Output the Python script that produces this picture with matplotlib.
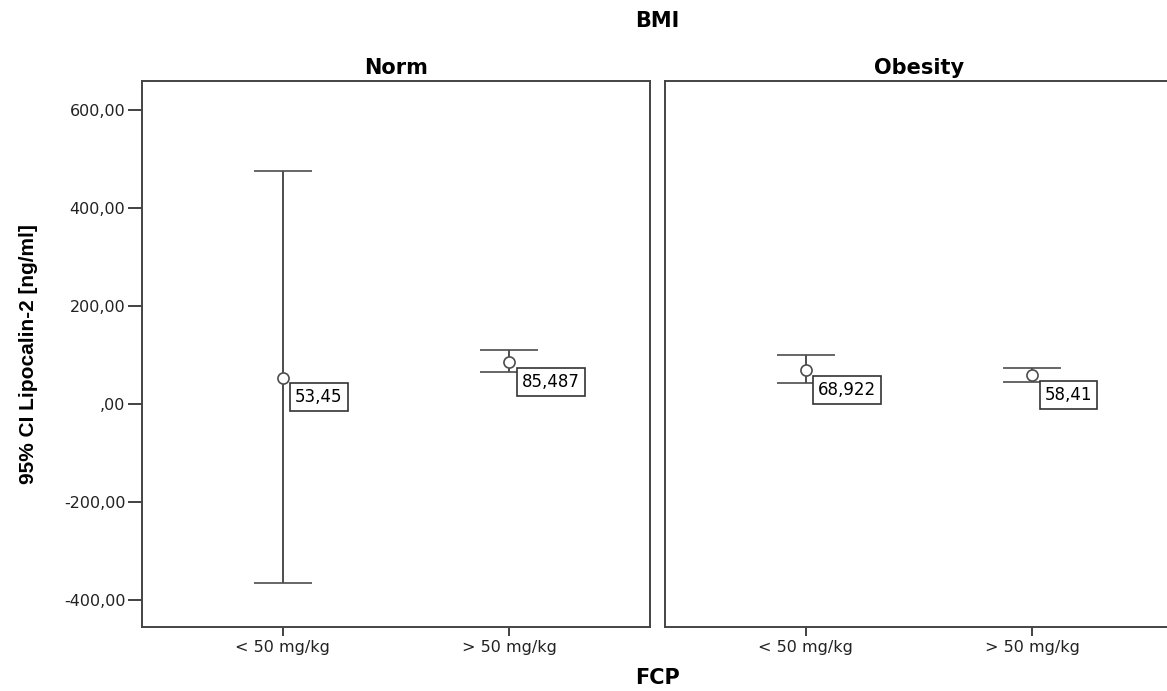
import matplotlib.pyplot as plt

plt.rcParams['font.family'] = ['DejaVu Sans']

# Data
panels = ['Norm', 'Obesity']
categories = ['< 50 mg/kg', '> 50 mg/kg']
means = [[53.45, 85.487], [68.922, 58.41]]
ci_low = [[-365, 65], [43, 45]]
ci_high = [[475, 110], [100, 73]]
mean_labels = [['53,45', '85,487'], ['68,922', '58,41']]
yticks = [-400, -200, 0, 200, 400, 600]
ytick_labels = ['-400,00', '-200,00', ',00', '200,00', '400,00', '600,00']

fig = plt.figure(figsize=(11.67, 6.91), dpi=100)
ax_left = fig.add_axes([0.1217, 0.0926, 0.4353, 0.790])
ax_right = fig.add_axes([0.5698, 0.0926, 0.4353, 0.790])
axes = [ax_left, ax_right]

line_col = '#4d4d4d'
for i, ax in enumerate(axes):
    x = list(range(len(categories)))
    yerr = [[means[i][j] - ci_low[i][j] for j in x],
            [ci_high[i][j] - means[i][j] for j in x]]
    ax.errorbar(x, means[i], yerr=yerr, fmt='o', mfc='white', mec=line_col,
                ms=8, mew=1.2, ecolor=line_col, elinewidth=1.4, capsize=21,
                capthick=1.4, color=line_col)
    for j in x:
        ax.annotate(mean_labels[i][j], (j, means[i][j]), xytext=(9, -7.5),
                    textcoords='offset points', ha='left', va='top',
                    fontsize=12,
                    bbox=dict(boxstyle='square,pad=0.3', fc='white',
                              ec='#333333', lw=1.2))
    ax.set_xlim(-0.62, 1.62)
    ax.set_ylim(-455, 659)
    ax.set_xticks(x)
    ax.set_xticklabels(categories, fontsize=11.5, color='#222222')
    ax.tick_params(axis='x', length=6.5, width=1.3, color='#333333', pad=3)
    ax.set_title(panels[i], fontsize=15, fontweight='bold', pad=5)
    for s in ax.spines.values():
        s.set_color('#444444')
        s.set_linewidth(1.4)

ax_left.set_yticks(yticks)
ax_left.set_yticklabels(ytick_labels, fontsize=11.5, color='#222222')
ax_left.tick_params(axis='y', length=10, width=1.3, color='#333333', pad=2)
ax_left.set_ylabel('95% CI Lipocalin-2 [ng/ml]', fontsize=15,
                   fontweight='bold', fontfamily='Liberation Sans')
ax_left.yaxis.set_label_coords(-0.205, 0.5)
ax_right.set_yticks([])

fig.text(0.563, 0.970, 'BMI', ha='center', va='center', fontsize=15,
         fontweight='bold')
fig.text(0.563, 0.019, 'FCP', ha='center', va='center', fontsize=15,
         fontweight='bold')

fig.savefig('out.png', dpi=100)
